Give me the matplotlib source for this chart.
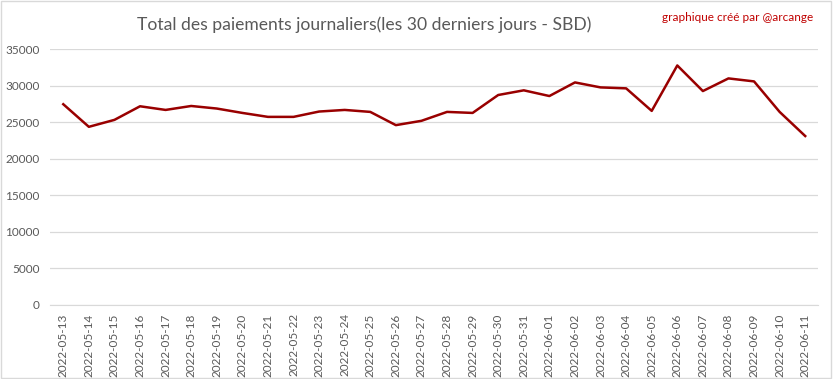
import matplotlib
matplotlib.use("Agg")
import matplotlib.pyplot as plt
from matplotlib.patches import Rectangle

dates = ["2022-05-13", "2022-05-14", "2022-05-15", "2022-05-16", "2022-05-17",
         "2022-05-18", "2022-05-19", "2022-05-20", "2022-05-21", "2022-05-22",
         "2022-05-23", "2022-05-24", "2022-05-25", "2022-05-26", "2022-05-27",
         "2022-05-28", "2022-05-29", "2022-05-30", "2022-05-31", "2022-06-01",
         "2022-06-02", "2022-06-03", "2022-06-04", "2022-06-05", "2022-06-06",
         "2022-06-07", "2022-06-08", "2022-06-09", "2022-06-10", "2022-06-11"]
payments = [27450, 24360, 25310, 27170, 26670, 27210, 26860, 26260, 25720, 25720,
            26450, 26670, 26400, 24590, 25180, 26400, 26260, 28710, 29350, 28570,
            30430, 29750, 29620, 26540, 32750, 29250, 30980, 30570, 26400, 23100]
yticks = [0, 5000, 10000, 15000, 20000, 25000, 30000, 35000]

plt.rcParams['font.family'] = ['Lato', 'DejaVu Sans']

fig = plt.figure(figsize=(8.33, 3.79), dpi=100)
fig.patches.append(Rectangle((0.001, 0.002), 0.997, 0.995, transform=fig.transFigure,
                             fill=False, edgecolor='#d9d9d9', linewidth=1))
ax = fig.add_axes([0.0606, 0.1953, 0.9214, 0.6754])
x = range(len(dates))
ax.plot(x, payments, color='#990000', linewidth=1.8, solid_joinstyle='round')
ax.set_xlim(-0.5, len(dates) - 0.5)
ax.set_ylim(0, 35000)
ax.set_yticks(yticks)
ax.set_yticklabels([str(v) for v in yticks])
ax.set_xticks(list(x))
ax.set_xticklabels(dates, rotation=90)
ax.grid(axis='y', color='#d9d9d9', linewidth=0.9)
ax.set_axisbelow(True)
for s in ['top', 'right', 'left']:
    ax.spines[s].set_visible(False)
ax.spines['bottom'].set_color('#d9d9d9')
ax.tick_params(axis='both', length=0, colors='#595959', labelsize=8.5)
ax.tick_params(axis='y', pad=8)
ax.tick_params(axis='x', pad=6)

fig.text(0.437, 0.935, "Total des paiements journaliers(les 30 derniers jours - SBD)",
         ha='center', va='center', fontsize=12.6, color='#595959')
fig.text(0.976, 0.955, "graphique créé par @arcange", ha='right', va='center',
         fontsize=8.5, color='#c00000')

fig.savefig("out.png", dpi=100)
